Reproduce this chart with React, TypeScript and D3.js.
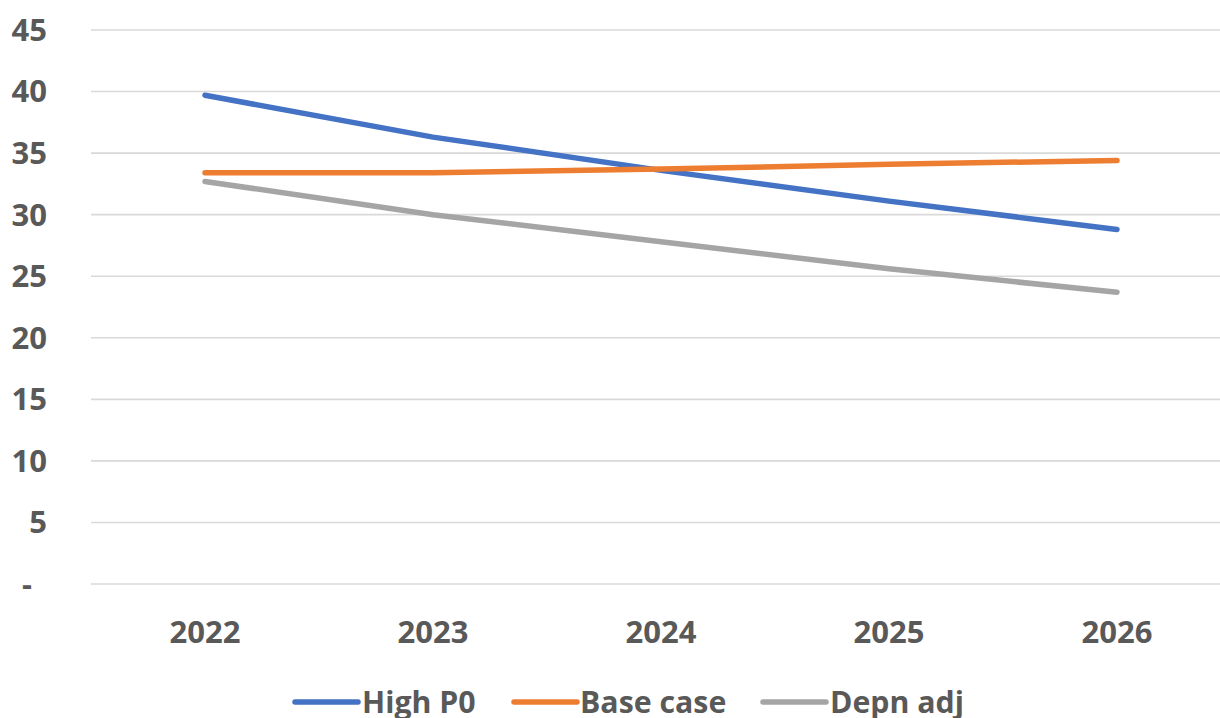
import React from "react";
import * as d3 from "d3";

const years = ["2022", "2023", "2024", "2025", "2026"];
const highP0 = [39.7, 36.3, 33.6, 31.1, 28.8];
const baseCase = [33.4, 33.4, 33.7, 34.1, 34.4];
const depnAdj = [32.7, 30.0, 27.8, 25.6, 23.7];
const yTicks = [0, 5, 10, 15, 20, 25, 30, 35, 40, 45];

const seriesNames = ["High P0", "Base case", "Depn adj"];
const seriesValues = [highP0, baseCase, depnAdj];
const seriesColors = ["#4472C4", "#ED7D31", "#A5A5A5"];

const W = 1220;
const H = 718;
const FONT = "'Open Sans', sans-serif";
const TEXT = "#595959";

export default function App() {
  const x = d3.scaleBand<string>().domain(years).range([91, 1231]);
  const y = d3.scaleLinear().domain([0, 45]).range([584, 30]);
  const cx = (yr: string) => (x(yr) ?? 0) + x.bandwidth() / 2;

  const line = d3
    .line<number>()
    .x((_, i) => cx(years[i]))
    .y((v) => y(v));

  const legendItems = [
    { lx: 295, tx: 362 },
    { lx: 514, tx: 580 },
    { lx: 763, tx: 830 },
  ];

  return (
    <svg
      width={W}
      height={H}
      style={{ position: "absolute", left: 0, top: 0, background: "#fff" }}
      fontFamily={FONT}
    >
      {yTicks.map((t) => (
        <g key={t}>
          <line x1={91} x2={W} y1={y(t)} y2={y(t)} stroke="#D9D9D9" strokeWidth={1.6} />
          <text
            x={t === 0 ? 32 : 47}
            y={y(t)}
            dy="0.35em"
            textAnchor="end"
            fontSize={31}
            fontWeight={700}
            fill={TEXT}
          >
            {t === 0 ? "-" : t}
          </text>
        </g>
      ))}
      {years.map((yr) => (
        <text
          key={yr}
          x={cx(yr)}
          y={632}
          dy="0.35em"
          textAnchor="middle"
          fontSize={31}
          fontWeight={700}
          fill={TEXT}
        >
          {yr}
        </text>
      ))}
      {seriesValues.map((vals, i) => (
        <path
          key={seriesNames[i]}
          d={line(vals) ?? ""}
          fill="none"
          stroke={seriesColors[i]}
          strokeWidth={5.5}
          strokeLinecap="round"
          strokeLinejoin="round"
        />
      ))}
      {seriesNames.map((name, i) => (
        <g key={name}>
          <line
            x1={legendItems[i].lx}
            x2={legendItems[i].lx + 63}
            y1={702}
            y2={702}
            stroke={seriesColors[i]}
            strokeWidth={5.5}
            strokeLinecap="round"
          />
          <text
            x={legendItems[i].tx}
            y={702}
            dy="0.35em"
            fontSize={30.3}
            fontWeight={700}
            fill={TEXT}
          >
            {name}
          </text>
        </g>
      ))}
    </svg>
  );
}
